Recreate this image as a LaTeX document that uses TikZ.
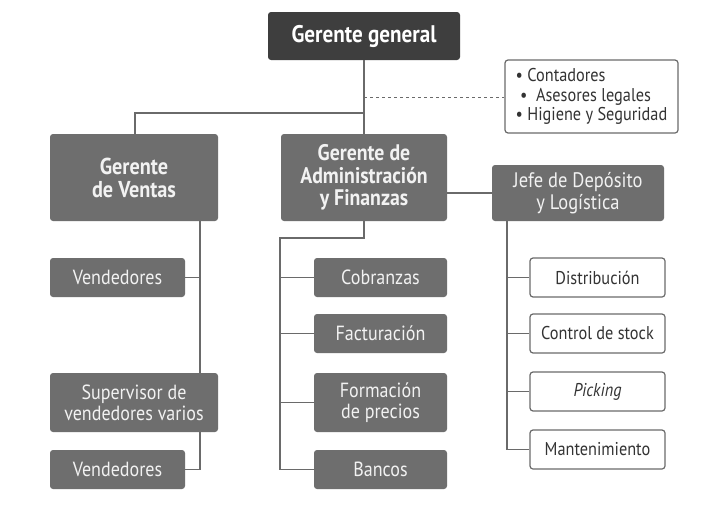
\documentclass[tikz,border=0pt]{standalone}
\usepackage{fontspec}
\setmainfont[FakeStretch=0.88]{PT Sans}
\definecolor{dk}{HTML}{3E3E3E}
\definecolor{md}{HTML}{6E6E6E}
\definecolor{ln}{HTML}{6A6A6A}
\definecolor{txt}{HTML}{F2F2F2}
\begin{document}
\begin{tikzpicture}[x=1pt,y=-1pt,
  box/.style={rounded corners=3pt,inner sep=0pt,align=center,font=\fontsize{20.5}{21}\selectfont},
  dbox/.style={box,fill=md,text=txt},
  wbox/.style={box,draw=ln,line width=1.2pt,fill=white,text=black!80,font=\fontsize{18.5}{19}\selectfont},
  con/.style={draw=ln,line width=1.2pt}]
\fill[white] (0,0) rectangle (712,522);
\useasboundingbox (0,0) rectangle (712,522);
% boxes
\node[box,fill=dk,text=white,font=\bfseries\fontsize{24}{25}\selectfont,minimum width=192pt,minimum height=48pt] (gg) at (364,36) {Gerente general};
\node[wbox,minimum width=173pt,minimum height=73pt,align=left,font=\fontsize{18.5}{19.5}\selectfont] (notes) at (591.5,96.5) {• Contadores\\\ • \ Asesores legales\\• Higiene y Seguridad};
\node[dbox,font=\bfseries\fontsize{23}{23}\selectfont,minimum width=168pt,minimum height=87pt] (gv) at (134,177.5) {Gerente\\de Ventas};
\node[dbox,font=\bfseries\fontsize{22.5}{22.5}\selectfont,minimum width=166pt,minimum height=87pt] (gaf) at (364,177.5) {Gerente de\\Administración\\y Finanzas};
\node[dbox,font=\fontsize{21}{21.5}\selectfont,minimum width=172pt,minimum height=56pt] (jd) at (578,193) {Jefe de Depósito\\y Logística};
\node[dbox,minimum width=135pt,minimum height=39pt] (v1) at (117.5,277.5) {Vendedores};
\node[dbox,minimum width=168pt,minimum height=59pt] (sup) at (134,402.5) {Supervisor de\\vendedores varios};
\node[dbox,minimum width=135pt,minimum height=39pt] (v2) at (117.5,469.5) {Vendedores};
\node[dbox,minimum width=133pt,minimum height=39pt] (cob) at (380.5,277.5) {Cobranzas};
\node[dbox,minimum width=133pt,minimum height=39pt] (fac) at (380.5,333.5) {Facturación};
\node[dbox,minimum width=133pt,minimum height=59pt] (for) at (380.5,402.5) {Formación\\de precios};
\node[dbox,minimum width=133pt,minimum height=39pt] (ban) at (380.5,469.5) {Bancos};
\node[wbox,minimum width=135pt,minimum height=39pt] (dis) at (597.5,277.5) {Distribución};
\node[wbox,minimum width=135pt,minimum height=39pt] (cds) at (597.5,333.5) {Control de stock};
\node[wbox,minimum width=135pt,minimum height=39pt] (pic) at (597.5,391.5) {\itshape Picking};
\node[wbox,minimum width=135pt,minimum height=39pt] (man) at (597.5,449.5) {Mantenimiento};
% coordinates
\coordinate (t1) at (135,113);
\coordinate (t2) at (364,113);
\coordinate (dd) at (364,97);
\coordinate (a1) at (364,238);
\coordinate (a2) at (280,238);
\coordinate (a3) at (280,469.5);
\coordinate (gvx) at (200,221);
\coordinate (jx) at (507,221);
% connectors
\draw[con] (gg.south) -- (gaf.north);
\draw[con] (t2) -- (t1) -- (gv.north -| t1);
\draw[con,dashed,dash pattern=on 3pt off 3pt,line width=1pt] (dd) -- (notes.west |- dd);
\draw[con] (gvx) -- (sup.north -| gvx);
\draw[con] (v1.east) -- (v1.east -| gvx);
\draw[con] (sup.south -| gvx) -- (v2.east -| gvx) -- (v2.east);
\draw[con] (gaf.south) -- (a1) -- (a2) -- (a3) -- (ban.west);
\draw[con] (cob.west -| a2) -- (cob.west);
\draw[con] (fac.west -| a2) -- (fac.west);
\draw[con] (for.west -| a2) -- (for.west);
\draw[con] (gaf.east |- jd.west) -- (jd.west);
\draw[con] (jx) -- (man.west -| jx) -- (man.west);
\draw[con] (dis.west -| jx) -- (dis.west);
\draw[con] (cds.west -| jx) -- (cds.west);
\draw[con] (pic.west -| jx) -- (pic.west);
\end{tikzpicture}
\end{document}
